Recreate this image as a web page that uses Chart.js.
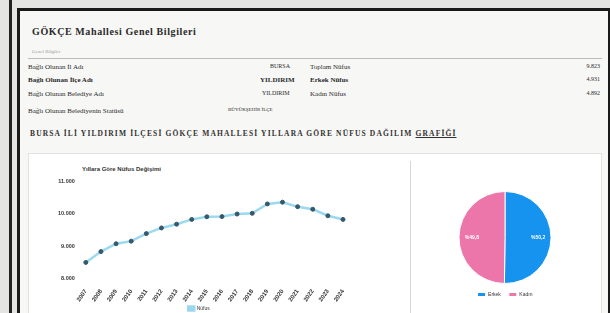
<!DOCTYPE html>
<html>
<head>
<meta charset="utf-8">
<script src="https://cdn.jsdelivr.net/npm/chart.js@4"></script>
<style>
  body { margin: 0; width: 610px; height: 313px; background: #e4e4e2; overflow: hidden; font-family: "Liberation Serif", serif; }
  .edge { position: absolute; left: 9px; top: 0; width: 3px; height: 313px; background: #222; }
  .page { position: absolute; left: 17px; top: 8px; width: 588px; height: 310px; border: 3px solid #1a1a1a; border-bottom: none; background: #f7f7f5; }
  .t { position: absolute; color: #2a2a2a; font-size: 7px; white-space: nowrap; }
  .title { font-weight: bold; font-size: 10px; letter-spacing: 0.6px; left: 12px; top: 15px; }
  .rule { position: absolute; left: 8px; right: 6px; top: 47px; border-top: 1px solid #bbb; }
  .panel { position: absolute; left: 8px; top: 142px; width: 572px; height: 170px; background: #fff; border: 1px solid #e2e2e2; }
  .divider { position: absolute; left: 390px; top: 150px; width: 1px; height: 160px; background: #d6d6d6; }
  canvas { position: absolute; }
</style>
</head>
<body>
<div class="edge"></div>
<div class="page">
  <div class="t title">GÖKÇE Mahallesi Genel Bilgileri</div>
  <div class="t" style="left:12px;top:38px;font-size:5px;color:#999">Genel Bilgiler</div>
  <div class="rule"></div>
  <div class="t" style="left:8px;top:52px">Bağlı Olunan İl Adı</div>
  <div class="t" style="left:8px;top:65px;font-weight:bold">Bağlı Olunan İlçe Adı</div>
  <div class="t" style="left:8px;top:79px">Bağlı Olunan Belediye Adı</div>
  <div class="t" style="left:8px;top:96px">Bağlı Olunan Belediyenin Statüsü</div>
  <div class="t" style="left:250px;top:52px;font-size:6px">BURSA</div>
  <div class="t" style="left:240px;top:65px;font-weight:bold">YILDIRIM</div>
  <div class="t" style="left:242px;top:79px;font-size:6px">YILDIRIM</div>
  <div class="t" style="left:208px;top:96px;font-size:5px">BÜYÜKŞEHİR İLÇE</div>
  <div class="t" style="left:290px;top:52px">Toplam Nüfus</div>
  <div class="t" style="left:290px;top:65px;font-weight:bold">Erkek Nüfus</div>
  <div class="t" style="left:290px;top:79px">Kadın Nüfus</div>
  <div class="t" id="vTotal" style="right:8px;top:52px;font-size:6px"></div>
  <div class="t" id="vMale" style="right:8px;top:65px;font-size:6px"></div>
  <div class="t" id="vFemale" style="right:8px;top:79px;font-size:6px"></div>
  <div class="t" style="left:10px;top:118px;font-size:7.5px;font-weight:bold;letter-spacing:1.15px;color:#333">BURSA İLİ YILDIRIM İLÇESİ GÖKÇE MAHALLESİ YILLARA GÖRE NÜFUS DAĞILIM <u>GRAFİĞİ</u></div>
  <div class="panel"></div>
  <div class="divider"></div>
  <div class="t" style="left:62px;top:155px;font-family:'Liberation Sans',sans-serif;font-size:6px;font-weight:bold;color:#333">Yıllara Göre Nüfus Değişimi</div>
</div>
<canvas id="lineChart" style="left:55px;top:163px" width="346" height="158"></canvas>
<canvas id="pieChart" style="left:412px;top:172px" width="186" height="152"></canvas>
<script>
const years = ["2007","2008","2009","2010","2011","2012","2013","2014","2015","2016","2017","2018","2019","2020","2021","2022","2023","2024"];
const population = [8506, 8838, 9078, 9158, 9388, 9562, 9677, 9823, 9904, 9910, 9988, 10009, 10298, 10351, 10214, 10134, 9935, 9823];
const genderLabels = ["Erkek", "Kadın"];
const genderCounts = [4931, 4892];
const yTicks = [8000, 9000, 10000, 11000];

const fmt = v => v.toLocaleString("tr-TR");
document.getElementById("vTotal").textContent = fmt(population[population.length - 1]);
document.getElementById("vMale").textContent = fmt(genderCounts[0]);
document.getElementById("vFemale").textContent = fmt(genderCounts[1]);

Chart.defaults.font.family = "Liberation Sans, sans-serif";
Chart.defaults.color = "#333";

new Chart(document.getElementById("lineChart"), {
  type: "line",
  data: {
    labels: years,
    datasets: [{
      label: "Nüfus",
      data: population,
      borderColor: "rgba(150,215,238,0.95)",
      backgroundColor: "#9fd6ea",
      borderWidth: 2.5,
      pointBackgroundColor: "#35586a",
      pointBorderColor: "#35586a",
      pointBorderWidth: 1,
      pointRadius: 2,
      tension: 0
    }]
  },
  options: {
    responsive: false,
    animation: false,
    layout: { padding: { right: 58, top: 18 } },
    plugins: {
      legend: { position: "bottom", labels: { boxWidth: 6, boxHeight: 4, font: { size: 5 }, padding: 2 } }
    },
    scales: {
      x: {
        offset: false,
        grid: { display: false },
        border: { display: false },
        ticks: { font: { size: 6, weight: "bold" }, maxRotation: 55, minRotation: 55, padding: 1 }
      },
      y: {
        min: yTicks[0],
        max: yTicks[yTicks.length - 1],
        grid: { display: false },
        border: { display: false },
        afterBuildTicks: axis => { axis.ticks = yTicks.map(v => ({ value: v })); },
        ticks: { font: { size: 5.5, weight: "bold" }, callback: v => fmt(v) }
      }
    }
  }
});

const pieTotal = genderCounts.reduce((a, b) => a + b, 0);
new Chart(document.getElementById("pieChart"), {
  type: "pie",
  data: {
    labels: genderLabels,
    datasets: [{ data: genderCounts, backgroundColor: ["#1593ee", "#ec76aa"], borderColor: "#fff", borderWidth: 1 }]
  },
  options: {
    responsive: false,
    animation: false,
    layout: { padding: { top: 19, bottom: 17, left: 40, right: 40 } },
    plugins: {
      legend: { position: "bottom", labels: { boxWidth: 8, boxHeight: 4, font: { size: 5 }, padding: 8 } }
    }
  },
  plugins: [{
    id: "pct",
    afterDatasetsDraw(chart) {
      const ctx = chart.ctx;
      chart.getDatasetMeta(0).data.forEach((arc, i) => {
        const mid = (arc.startAngle + arc.endAngle) / 2;
        const r = arc.outerRadius * 0.72;
        ctx.save();
        ctx.fillStyle = "#fff";
        ctx.font = "bold 5px Liberation Sans";
        ctx.textAlign = "center";
        ctx.textBaseline = "middle";
        ctx.fillText("%" + (genderCounts[i] / pieTotal * 100).toFixed(1).replace(".", ","), arc.x + Math.cos(mid) * r, arc.y + Math.sin(mid) * r);
        ctx.restore();
      });
    }
  }]
});
</script>
</body>
</html>
